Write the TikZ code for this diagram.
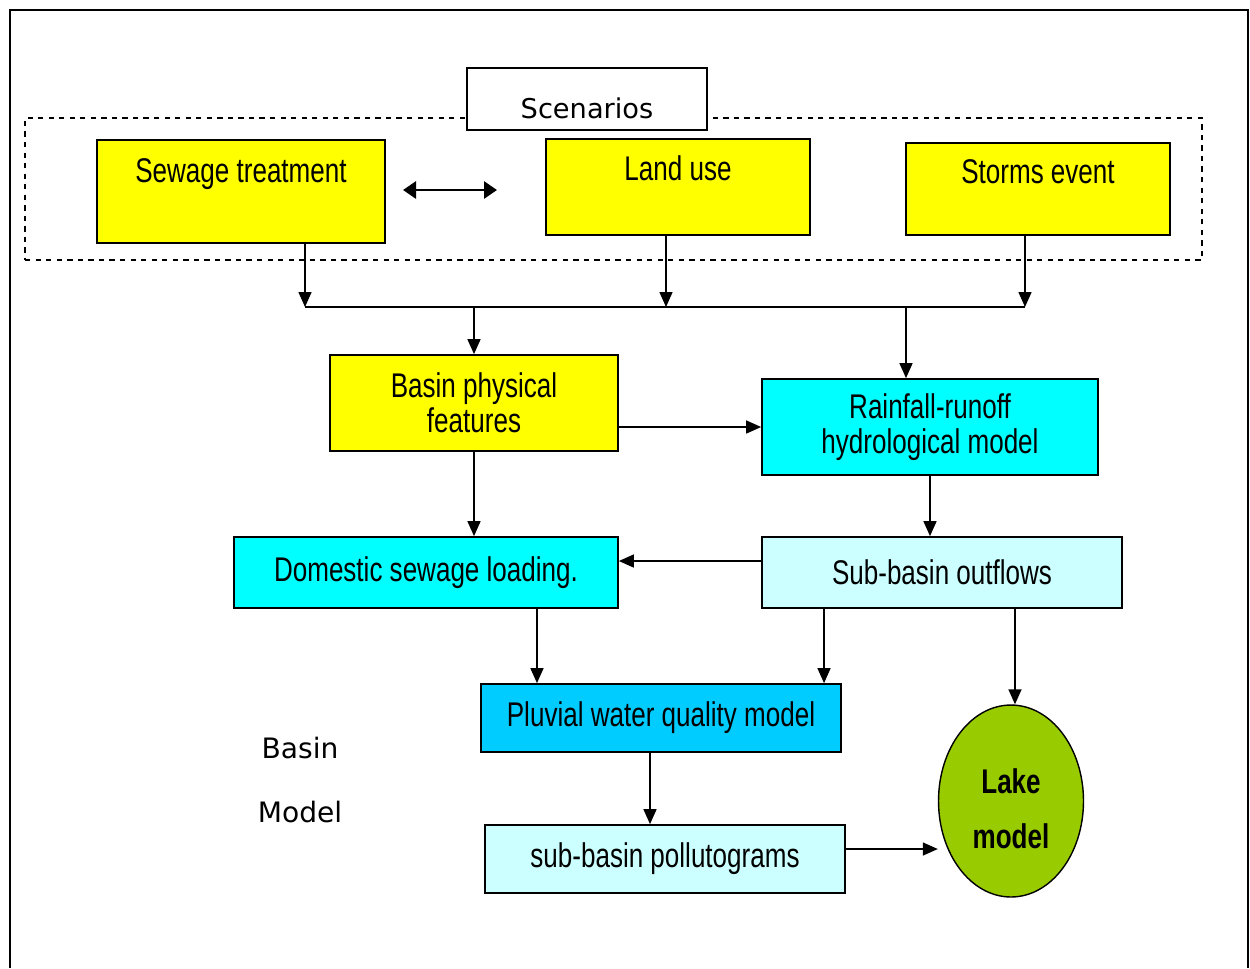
\documentclass[tikz,border=0pt]{standalone}
\usepackage{fontspec}
\setmainfont{Liberation Sans}
\newfontfamily\narrowfont[FakeStretch=0.76]{Liberation Sans}
\newfontfamily\titlefont{DejaVu Sans}
\usepackage{tikz}
\usetikzlibrary{arrows.meta,positioning,shapes.geometric}
\definecolor{SunYellow}{HTML}{FFFF00}
\definecolor{Aqua}{HTML}{00FFFF}
\definecolor{PaleAqua}{HTML}{CCFFFF}
\definecolor{SkyBlue}{HTML}{00CCFF}
\definecolor{LakeGreen}{HTML}{99CC00}

\begin{document}
\begin{tikzpicture}[
    x=0.02cm, y=-0.02cm,
    font=\narrowfont\fontsize{19.5}{20}\selectfont,
    box/.style={rectangle, draw=black, line width=1pt, align=center, inner sep=0pt},
    scen/.style={box, fill=SunYellow},
    feat/.style={box, fill=SunYellow, minimum width=5.76cm, minimum height=1.92cm},
    hydro/.style={box, fill=Aqua},
    flow/.style={box, fill=PaleAqua},
    quality/.style={box, fill=SkyBlue},
    lakebox/.style={ellipse, draw=black, line width=0.8pt, fill=LakeGreen, inner sep=0pt, align=center, font=\narrowfont\bfseries\fontsize{19.5}{20}\selectfont},
    arrow/.style={-{Triangle[length=3mm,width=2.6mm]}, line width=0.8pt, draw=black},
    dblarrow/.style={{Triangle[length=2.6mm,width=3.4mm]}-{Triangle[length=2.6mm,width=3.4mm]}, line width=1.6pt, draw=black}
]
\useasboundingbox (0,0) rectangle (1250,968);
\draw[line width=1.2pt] (10,968) -- (10,10) -- (1248,10) -- (1248,968);

% scenario block
\node[draw=black, dashed, line width=0.8pt, minimum width=23.54cm, minimum height=2.84cm] (scenframe) at (613.5,189) {};
\node[box, fill=white, minimum width=4.8cm, text height=1cm, text depth=0.24cm, font=\titlefont\fontsize{15.5}{18}\selectfont] (scenarios) at (587,99) {Scenarios};
\node[scen, minimum width=5.76cm, text height=0.84cm, text depth=1.22cm] (sewage) at (241,191.5) {Sewage treatment};
\node[scen, minimum width=5.28cm, text height=0.82cm, text depth=1.1cm] (landuse) at (678,187) {Land use};
\node[scen, minimum width=5.28cm, text height=0.8cm, text depth=1.04cm] (storms) at (1038,189) {Storms event};

\coordinate (dblL) at (403,190);
\coordinate (dblR) at (497,190);
\draw[dblarrow] (dblL) -- (dblR);

% collector line
\coordinate (busL) at (305,307);
\coordinate (busM) at (666,307);
\coordinate (busR) at (1025,307);
\coordinate (busT) at (906,307);

% basin model
\node[feat] (basin) at (474,403) {Basin physical\\features};
\node[hydro, minimum width=6.72cm, minimum height=1.92cm] (rainfall) at (930,427) {Rainfall-runoff\\hydrological model};
\node[hydro, minimum width=7.68cm, minimum height=1.42cm] (domestic) at (426,572.5) {Domestic sewage loading.};
\node[flow, minimum width=7.2cm, minimum height=1.42cm] (outflows) at (942,572.5) {Sub-basin outflows};
\node[quality, minimum width=7.2cm, minimum height=1.36cm] (pluvial) at (661,718) {Pluvial water quality model};
\node[flow, minimum width=7.2cm, minimum height=1.36cm] (pollut) at (665,859) {sub-basin pollutograms};
\node[lakebox, minimum width=2.9cm, minimum height=3.84cm, text height=1.9cm] (lake) at (1011,801) {Lake\\[11pt]model};
\node[align=center, font=\titlefont\fontsize{16}{19}\selectfont] (basinlabel) at (300,780) {Basin\\[17pt]Model};

\draw[arrow] (sewage.south -| busL) -- (busL);
\draw[arrow] (landuse.south -| busM) -- (busM);
\draw[arrow] (storms.south -| busR) -- (busR);
\draw[line width=0.8pt] (busL) -- (busR);
\draw[arrow] (basin.north |- busL) -- (basin.north);
\draw[arrow] (busT) -- (busT |- rainfall.north);
\draw[arrow] (basin.east |- rainfall.west) -- (rainfall.west);
\draw[arrow] (basin.south) -- (basin.south |- domestic.north);
\draw[arrow] (rainfall.south) -- (rainfall.south |- outflows.north);
\draw[arrow] ([yshift=0.23cm]outflows.west) -- ([yshift=0.23cm]domestic.east);
\draw[arrow] ([xshift=2.22cm]domestic.south) -- ([xshift=2.22cm]domestic.south |- pluvial.north);
\draw[arrow] ([xshift=-2.36cm]outflows.south) -- ([xshift=-2.36cm]outflows.south |- pluvial.north);
\draw[arrow] ([xshift=1.46cm]outflows.south) -- ([xshift=1.46cm]outflows.south |- lake.north);
\draw[arrow] ([xshift=-0.22cm]pluvial.south) -- ([xshift=-0.22cm]pluvial.south |- pollut.north);
\draw[arrow] ([yshift=0.2cm]pollut.east) -- ([yshift=0.2cm]pollut.east -| lake.west);
\end{tikzpicture}
\end{document}
